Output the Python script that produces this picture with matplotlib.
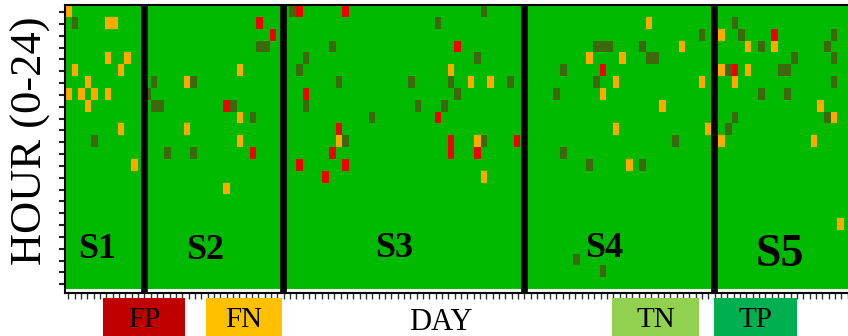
import numpy as np
import matplotlib
matplotlib.use('Agg')
import matplotlib.pyplot as plt
from matplotlib.colors import ListedColormap
from matplotlib.patches import Rectangle

# ---------------- data ----------------
n_days = 119
n_hours = 24

fp_days = [29, 31, 24, 28,
           35, 42, 59, 36, 56, 41, 58, 58, 68, 40, 62, 35, 42, 39,
           81,
           107, 101]
fp_hours = [1, 2, 8, 12,
            0, 0, 3, 7, 9, 10, 11, 12, 11, 12, 12, 13, 13, 14,
            5,
            2, 5]

fn_days = [0, 6, 7, 6, 9, 8, 1, 3, 0, 2, 4, 6, 3, 8, 10,
           26, 18, 26, 18, 26, 24,
           58, 61, 64, 41, 62, 63,
           88, 93, 79, 84, 83, 96, 81, 90, 83, 97, 85, 117,
           99, 103, 107, 99, 103, 101, 114, 116, 99, 113]
fn_hours = [0, 1, 1, 4, 4, 5, 5, 6, 7, 7, 7, 7, 8, 10, 13,
            5, 6, 9, 10, 11, 15,
            5, 6, 6, 11, 11, 14,
            1, 3, 4, 4, 6, 6, 7, 8, 10, 10, 13, 18,
            2, 3, 3, 5, 5, 6, 8, 9, 11, 11]

tp_days = [1, 4,
           29, 30, 13, 19, 12, 13, 14, 25, 28, 15, 19,
           34, 63, 56, 40, 36, 62, 35, 41, 52, 58, 67, 59, 36, 53, 57, 46, 42, 63,
           74, 75, 75, 96, 80, 81, 82, 87, 88, 89, 80, 92, 79, 87, 77, 81,
           101, 102, 116, 105, 115, 110, 116, 100, 108, 109, 116, 105, 109, 115, 101, 100]
tp_hours = [1, 11,
            3, 3, 6, 6, 7, 8, 8, 8, 9, 12, 12,
            0, 0, 1, 3, 4, 4, 5, 6, 6, 6, 6, 7, 8, 8, 8, 9, 11, 11,
            7, 5, 12, 2, 3, 3, 3, 3, 4, 4, 6, 11, 13, 13, 21, 22,
            1, 2, 2, 3, 3, 4, 4, 5, 5, 5, 6, 7, 7, 9, 9, 10]

session_names = ['S1', 'S2', 'S3', 'S4', 'S5']
session_bounds = [11.9, 33.0, 69.5, 98.4]
legend_labels = ['FP', 'FN', 'TN', 'TP']

# ---------------- styling ----------------
c_tn = '#00BA00'
c_tp = '#3D680E'
c_fn = '#FFA800'
c_fp = '#F20000'
legend_colors = ['#C00000', '#FFC000', '#92D050', '#00B050']
serif = ['Liberation Serif', 'DejaVu Serif']

W, H = 848, 336
fig = plt.figure(figsize=(W / 100, H / 100), dpi=100)
ax_left, ax_right, ax_top, ax_bot = 65, 848, 5, 293
ax = fig.add_axes([ax_left / W, (H - ax_bot) / H,
                   (ax_right - ax_left) / W, (ax_bot - ax_top) / H])

grid = np.zeros((n_hours, n_days))
grid[tp_hours, tp_days] = 1
grid[fn_hours, fn_days] = 2
grid[fp_hours, fp_days] = 3
cmap = ListedColormap([c_tn, c_tp, c_fn, c_fp])
ax.pcolormesh(np.arange(n_days + 1), np.arange(n_hours + 1), grid,
              cmap=cmap, vmin=-0.5, vmax=3.5, shading='flat')

cell_w = 6.6
row_h = (289 - 5) / 24
ax.set_xlim(0, (ax_right - ax_left) / cell_w)
ax.set_ylim(n_hours + (ax_bot - 289) / row_h, 0)

for b in session_bounds:
    ax.axvline(b, color='black', lw=4.8)

label_pos = [(4.8, 20.7, 26), (21.2, 20.75, 26), (49.9, 20.6, 26),
             (81.7, 20.6, 26), (108.3, 21.1, 33)]
for name, (lx, ly, fs) in zip(session_names, label_pos):
    ax.text(lx, ly, name, ha='center', va='center', fontsize=fs,
            fontweight='bold', family=serif, color='black')

ax.set_xticks(np.arange(0, 124) * 0.96 + 0.5)
ax.set_xticklabels([])
ax.set_yticks(np.arange(n_hours) + 0.6)
ax.set_yticklabels([])
ax.tick_params(axis='x', direction='out', length=4, width=1, color='#333333')
ax.tick_params(axis='y', direction='out', length=4, width=1.5, color='#222222')
ax.spines['right'].set_visible(False)
for s in ['top', 'left', 'bottom']:
    ax.spines[s].set_linewidth(1.5)
    ax.spines[s].set_color('black')

# y label
fig.text(31 / W, (H - 141) / H, 'HOUR (0-24)', rotation=90, ha='center',
         va='center', fontsize=32, family=serif, color='black')
# x label
fig.text(441 / W, (H - 322) / H, 'DAY', ha='center', va='center',
         fontsize=22, family=serif, color='black')

# legend boxes
boxes = [(103, 82), (206, 76), (612, 87), (714, 83)]
for (bx, bw), lab, col in zip(boxes, legend_labels, legend_colors):
    fig.patches.append(Rectangle((bx / W, -0.05), bw / W, 0.05 + (H - 298) / H,
                                 transform=fig.transFigure, facecolor=col,
                                 edgecolor='none', zorder=0))
    fig.text((bx + bw / 2) / W, (H - 320) / H, lab, ha='center', va='center',
             fontsize=21, family=serif, color='black')

fig.savefig('out.png', dpi=100)
